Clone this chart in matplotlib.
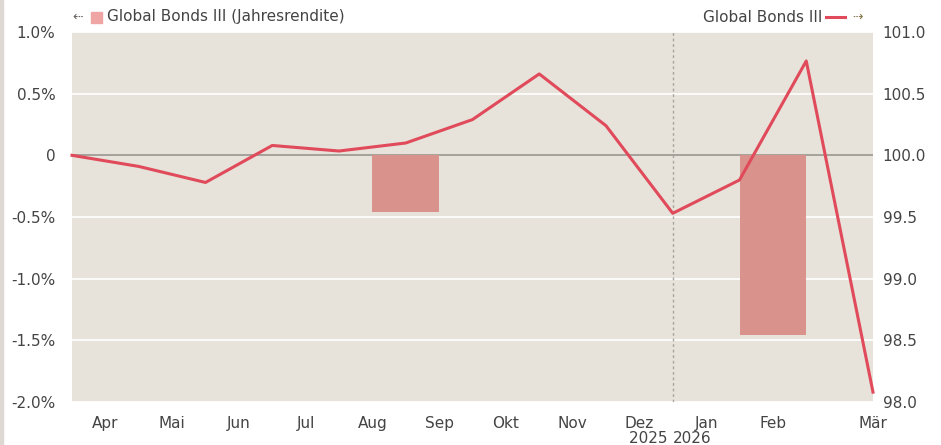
import matplotlib
matplotlib.use("Agg")
import matplotlib.pyplot as plt
from matplotlib.patches import Rectangle

# Data
months = ["Apr", "Mai", "Jun", "Jul", "Aug", "Sep", "Okt", "Nov", "Dez", "Jan", "Feb", "Mär"]
line_values = [100.00, 99.91, 99.78, 100.08, 100.035, 100.10, 100.29, 100.66, 100.24, 99.53, 99.80, 100.765, 98.08]
bar_positions = [5.0, 10.5]
bar_values = [-0.46, -1.46]
left_ticks = [1.0, 0.5, 0.0, -0.5, -1.0, -1.5, -2.0]
left_labels = ["1.0%", "0.5%", "0", "-0.5%", "-1.0%", "-1.5%", "-2.0%"]
right_ticks = [101.0, 100.5, 100.0, 99.5, 99.0, 98.5, 98.0]
right_labels = ["101.0", "100.5", "100.0", "99.5", "99.0", "98.5", "98.0"]
years = ["2025", "2026"]

bg = "#E7E2DA"
line_color = "#E04A5A"
bar_color = "#D9938C"
text_color = "#444444"
fs = 11

fig = plt.figure(figsize=(9.41, 4.45), dpi=100)
fig.patch.set_facecolor("white")
fig.add_artist(Rectangle((0, 0), 3/941, 1, transform=fig.transFigure, color="#DDD8D2", zorder=0))

ax = fig.add_axes([72/941, 43/445, (873-72)/941, (402-32)/445])
ax.set_facecolor(bg)
for s in ax.spines.values():
    s.set_visible(False)

ax.set_xlim(0, 12)
ax.set_ylim(-2.0, 1.0)
for t in left_ticks:
    if t != 0:
        ax.axhline(t, color="white", lw=1.2, zorder=1)
ax.axhline(0, color="#9A9690", lw=1.2, zorder=2)
ax.axvline(9, color="#A8A49E", lw=1.0, ls=(0, (2, 2)), zorder=2)

ax.bar(bar_positions, bar_values, width=1.0, color=bar_color, zorder=3)

ax.set_yticks(left_ticks)
ax.set_yticklabels(left_labels)
ax.tick_params(axis="y", length=0, pad=12, labelsize=fs, labelcolor=text_color)

xt = [i + 0.5 for i in range(11)] + [12]
ax.set_xticks(xt)
ax.set_xticklabels(months)
ax.tick_params(axis="x", length=0, pad=10, labelsize=fs, labelcolor=text_color)

ax.text(9, -0.078, years[0] + " ", transform=ax.get_xaxis_transform(), ha="right", va="top",
        fontsize=fs, color=text_color)
ax.text(9, -0.078, years[1], transform=ax.get_xaxis_transform(), ha="left", va="top",
        fontsize=fs, color=text_color)

ax2 = ax.twinx()
for s in ax2.spines.values():
    s.set_visible(False)
ax2.set_ylim(98.0, 101.0)
ax2.plot(range(len(line_values)), line_values, color=line_color, lw=2.2, zorder=5, clip_on=False)
ax2.set_yticks(right_ticks)
ax2.set_yticklabels(right_labels)
ax2.tick_params(axis="y", length=0, pad=7, labelsize=fs, labelcolor=text_color)

# Legends
fig.text(72/941, 1 - 17/445, "⇠", fontsize=9, color="#6A6560", ha="left", va="center")
fig.add_artist(Rectangle((91/941, 1 - 23/445), 11/941, 11/445, transform=fig.transFigure,
                         color="#F0A5A5"))
fig.text(107/941, 1 - 17/445, "Global Bonds III (Jahresrendite)", fontsize=fs,
         color=text_color, ha="left", va="center")

fig.text(822/941, 1 - 17/445, "Global Bonds III", fontsize=fs, color=text_color,
         ha="right", va="center")
fig.add_artist(plt.Line2D([826/941, 845/941], [1 - 17/445, 1 - 17/445], transform=fig.transFigure,
                          color=line_color, lw=2.2))
fig.text(852/941, 1 - 17/445, "⇢", fontsize=9, color="#8A7A50", ha="left", va="center")

fig.savefig("out.png", dpi=100, facecolor=fig.get_facecolor())
